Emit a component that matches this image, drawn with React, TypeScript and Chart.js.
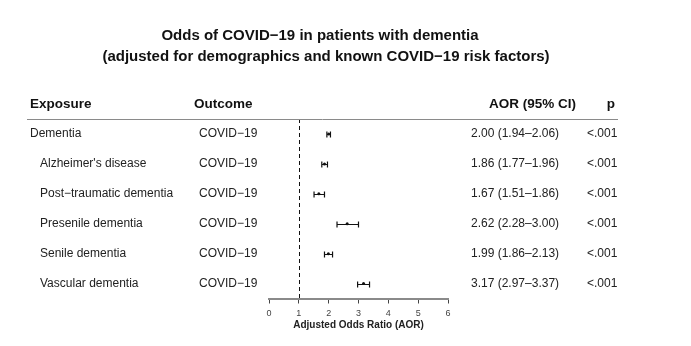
import React, { useEffect, useRef } from "react";
import { Chart, registerables } from "chart.js";

Chart.register(...registerables);

const titleLines = [
  "Odds of COVID\u221219 in patients with dementia",
  "(adjusted for demographics and known COVID\u221219 risk factors)",
];
const exposures = [
  "Dementia",
  "Alzheimer's disease",
  "Post\u2212traumatic dementia",
  "Presenile dementia",
  "Senile dementia",
  "Vascular dementia",
];
const indented = [false, true, true, true, true, true];
const outcomes = ["COVID\u221219", "COVID\u221219", "COVID\u221219", "COVID\u221219", "COVID\u221219", "COVID\u221219"];
const aor = [2.0, 1.86, 1.67, 2.62, 1.99, 3.17];
const lower = [1.94, 1.77, 1.51, 2.28, 1.86, 2.97];
const upper = [2.06, 1.96, 1.86, 3.0, 2.13, 3.37];
const aorText = [
  "2.00 (1.94\u20132.06)",
  "1.86 (1.77\u20131.96)",
  "1.67 (1.51\u20131.86)",
  "2.62 (2.28\u20133.00)",
  "1.99 (1.86\u20132.13)",
  "3.17 (2.97\u20133.37)",
];
const pText = ["<.001", "<.001", "<.001", "<.001", "<.001", "<.001"];
const headers = ["Exposure", "Outcome", "AOR (95% CI)", "p"];
const xTicks = [0, 1, 2, 3, 4, 5, 6];
const xTitle = "Adjusted Odds Ratio (AOR)";
const refLine = 1;

const FONT = "'Liberation Sans', Arial, Helvetica, sans-serif";
const TXT = "#222";

const forestPlugin = {
  id: "forest",
  beforeDatasetsDraw(chart: any) {
    const { ctx, chartArea, scales } = chart;
    const x = scales.x;
    const y = scales.y;
    ctx.save();
    ctx.strokeStyle = "#111";
    ctx.lineWidth = 1;
    ctx.setLineDash([4, 3]);
    const rx = Math.round(x.getPixelForValue(refLine)) + 0.5;
    ctx.beginPath();
    ctx.moveTo(rx, chartArea.top);
    ctx.lineTo(rx, chartArea.bottom);
    ctx.stroke();
    ctx.setLineDash([]);
    ctx.strokeStyle = "#111";
    ctx.lineWidth = 1.2;
    for (let i = 0; i < aor.length; i++) {
      const py = Math.round(y.getPixelForValue(i)) + 0.5;
      const x0 = x.getPixelForValue(lower[i]);
      const x1 = x.getPixelForValue(upper[i]);
      ctx.beginPath();
      ctx.moveTo(x0, py);
      ctx.lineTo(x1, py);
      ctx.moveTo(x0, py - 3);
      ctx.lineTo(x0, py + 3);
      ctx.moveTo(x1, py - 3);
      ctx.lineTo(x1, py + 3);
      ctx.stroke();
    }
    ctx.restore();
  },
  afterDraw(chart: any) {
    const { ctx, chartArea, scales } = chart;
    const y = scales.y;
    ctx.save();
    ctx.fillStyle = "#111";
    ctx.textBaseline = "middle";
    ctx.textAlign = "center";
    ctx.font = `bold 15px ${FONT}`;
    ctx.fillText(titleLines[0], 320, 36);
    ctx.fillText(titleLines[1], 326, 57);
    const hy = 104;
    ctx.font = `bold 13.5px ${FONT}`;
    ctx.textAlign = "left";
    ctx.fillText(headers[0], 30, hy);
    ctx.fillText(headers[1], 194, hy);
    ctx.textAlign = "right";
    ctx.fillText(headers[2], 576, hy);
    ctx.fillText(headers[3], 615, hy);
    ctx.strokeStyle = "#8a8a8a";
    ctx.lineWidth = 1;
    ctx.beginPath();
    ctx.moveTo(27, Math.round(chartArea.top) + 0.5);
    ctx.lineTo(618, Math.round(chartArea.top) + 0.5);
    ctx.stroke();
    ctx.fillStyle = TXT;
    ctx.font = `12px ${FONT}`;
    ctx.textAlign = "left";
    for (let i = 0; i < exposures.length; i++) {
      const py = y.getPixelForValue(i);
      ctx.fillText(exposures[i], indented[i] ? 40 : 30, py);
      ctx.fillText(outcomes[i], 199, py);
      ctx.fillText(aorText[i], 471, py);
      ctx.fillText(pText[i], 587, py);
    }
    ctx.restore();
  },
};

export default function App() {
  const ref = useRef<HTMLCanvasElement | null>(null);
  useEffect(() => {
    if (!ref.current) return;
    const chart = new Chart(ref.current, {
      type: "scatter",
      data: {
        datasets: [
          {
            data: aor.map((v, i) => ({ x: v, y: i })),
            pointRadius: 1.5,
            pointBackgroundColor: "#111",
            pointBorderWidth: 0,
          },
        ],
      },
      options: {
        animation: false,
        responsive: false,
        devicePixelRatio: 1,
        layout: { padding: { left: 269, right: 243, top: 119, bottom: 16 } },
        plugins: { legend: { display: false }, tooltip: { enabled: false }, title: { display: false } },
        scales: {
          x: {
            type: "linear",
            min: 0,
            max: 6,
            afterBuildTicks: (s: any) => {
              s.ticks = xTicks.map((v) => ({ value: v }));
            },
            ticks: { font: { size: 9, family: FONT, lineHeight: 1 }, color: "#444", padding: 6 },
            grid: { drawOnChartArea: false, drawTicks: true, tickLength: 5, color: "#444", tickWidth: 1 },
            border: { display: true, color: "#8a8a8a", width: 2 },
            title: {
              display: true,
              text: xTitle,
              font: { size: 10, weight: "bold", family: FONT, lineHeight: 1 },
              color: "#222",
              padding: { top: -4.5, bottom: 0 },
            },
          },
          y: { type: "linear", min: -0.5, max: 5.5, reverse: true, display: false },
        },
      },
      plugins: [forestPlugin],
    } as any);
    return () => chart.destroy();
  }, []);
  return (
    <div style={{ position: "fixed", left: 0, top: 0, width: 691, height: 346, background: "#fff" }}>
      <canvas ref={ref} width={691} height={346} style={{ width: 691, height: 346 }} />
    </div>
  );
}
